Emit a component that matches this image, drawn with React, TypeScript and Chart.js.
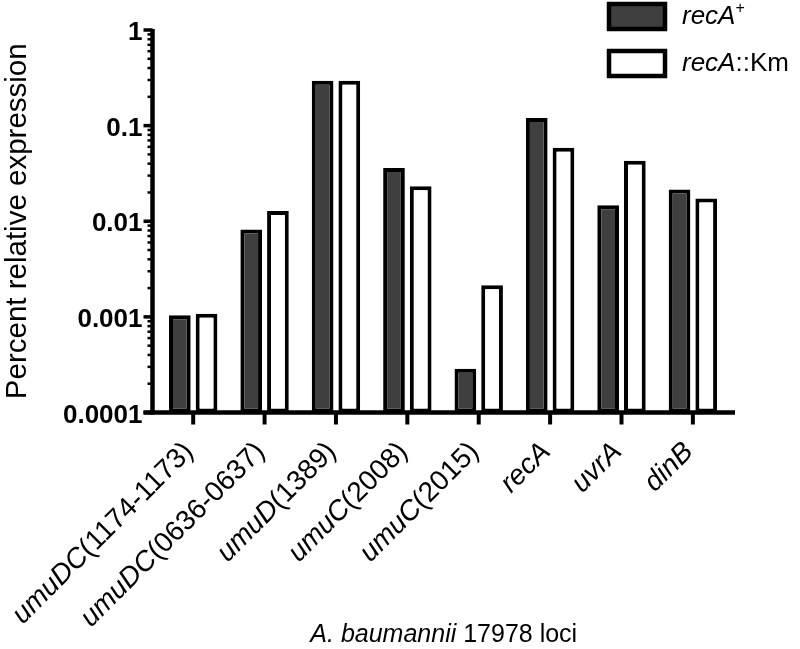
import { useEffect, useRef } from 'react';
import { Chart, registerables } from 'chart.js';

Chart.register(...registerables);

// ---- data ----
const categories = ['umuDC(1174-1173)', 'umuDC(0636-0637)', 'umuD(1389)', 'umuC(2008)', 'umuC(2015)', 'recA', 'uvrA', 'dinB'];
const seriesNames = ['recA+', 'recA::Km'];
const recAPlus = [0.00104, 0.0082, 0.294, 0.036, 0.000286, 0.12, 0.0147, 0.0215];
const recAKm = [0.00108, 0.0128, 0.294, 0.0232, 0.00214, 0.0587, 0.0429, 0.0173];
const yTickValues = [0.0001, 0.001, 0.01, 0.1, 1];
const yTickLabels = ['0.0001', '0.001', '0.01', '0.1', '1'];
const yMinorMultiples = [2, 3, 4, 5, 6, 7, 8, 9];
const yAxisTitle = 'Percent relative expression';
const xAxisTitleParts = ['A. baumannii', ' 17978 loci'];

const FF = '"Liberation Sans", Arial, Helvetica, sans-serif';
const DARK = '#3f3f3f';

type Part = { text: string; italic?: boolean; bold?: boolean; sup?: boolean };

function fontFor(p: Part, size: number) {
  const s = p.sup ? Math.round(size * 0.6) : size;
  return `${p.italic ? 'italic ' : ''}${p.bold ? 'bold ' : ''}${s}px ${FF}`;
}

function drawParts(ctx: CanvasRenderingContext2D, parts: Part[], x: number, y: number, size: number, align: 'left' | 'right' | 'center') {
  ctx.textAlign = 'left';
  const widths = parts.map((p) => {
    ctx.font = fontFor(p, size);
    return ctx.measureText(p.text).width;
  });
  const total = widths.reduce((a, b) => a + b, 0);
  let cx = align === 'left' ? x : align === 'right' ? x - total : x - total / 2;
  parts.forEach((p, i) => {
    ctx.font = fontFor(p, size);
    ctx.fillText(p.text, cx, p.sup ? y - size * 0.34 : y);
    cx += widths[i];
  });
}

function geneParts(label: string): Part[] {
  const m = label.match(/^([A-Za-z]+)(.*)$/);
  if (!m) return [{ text: label }];
  const parts: Part[] = [{ text: m[1], italic: true }];
  if (m[2] === '+') parts.push({ text: '+', sup: true });
  else if (m[2]) parts.push({ text: m[2] });
  return parts;
}

const customDraw = {
  id: 'customDraw',
  afterDraw(chart: any) {
    const ctx: CanvasRenderingContext2D = chart.ctx;
    const { left, right, top, bottom } = chart.chartArea;
    const xs = chart.scales.x;
    const ys = chart.scales.y;
    ctx.save();
    ctx.fillStyle = '#000';
    ctx.strokeStyle = '#000';
    ctx.lineCap = 'butt';

    // y axis line
    ctx.lineWidth = 4.5;
    ctx.beginPath();
    ctx.moveTo(left, top - 1);
    ctx.lineTo(left, bottom + 2);
    ctx.stroke();
    // x axis line
    ctx.beginPath();
    ctx.moveTo(left - 9, bottom);
    ctx.lineTo(right, bottom);
    ctx.stroke();

    // y major ticks + labels
    yTickValues.forEach((v, i) => {
      const py = ys.getPixelForValue(v);
      ctx.lineWidth = 3.5;
      ctx.beginPath();
      ctx.moveTo(left - 9, py);
      ctx.lineTo(left, py);
      ctx.stroke();
      ctx.textBaseline = 'middle';
      drawParts(ctx, [{ text: yTickLabels[i], bold: true }], left - 10, py + 3, 26, 'right');
    });
    // y minor ticks
    for (let i = 0; i < yTickValues.length - 1; i++) {
      yMinorMultiples.forEach((m) => {
        const py = ys.getPixelForValue(yTickValues[i] * m);
        ctx.lineWidth = 2.5;
        ctx.beginPath();
        ctx.moveTo(left - 5, py);
        ctx.lineTo(left, py);
        ctx.stroke();
      });
    }

    // x ticks + rotated labels
    categories.forEach((c, i) => {
      const px = xs.getPixelForValue(i);
      ctx.lineWidth = 4;
      ctx.beginPath();
      ctx.moveTo(px, bottom);
      ctx.lineTo(px, bottom + 12);
      ctx.stroke();
      ctx.save();
      ctx.translate(px - 4, bottom + 35);
      ctx.rotate(-Math.PI / 4);
      ctx.textBaseline = 'middle';
      drawParts(ctx, geneParts(c), 0, 0, 28, 'right');
      ctx.restore();
    });

    // y axis title
    ctx.save();
    ctx.translate(26, (top + bottom) / 2);
    ctx.rotate(-Math.PI / 2);
    ctx.textBaseline = 'alphabetic';
    drawParts(ctx, [{ text: yAxisTitle }], 0, 0, 29.5, 'center');
    ctx.restore();

    // x axis title
    ctx.textBaseline = 'alphabetic';
    drawParts(ctx, [{ text: xAxisTitleParts[0], italic: true }, { text: xAxisTitleParts[1] }], (left + right) / 2, 642, 25, 'center');

    // legend
    const fills = [DARK, '#ffffff'];
    seriesNames.forEach((n, i) => {
      const by = 4 + i * 47;
      ctx.fillStyle = fills[i];
      ctx.fillRect(609, by, 56, 25);
      ctx.lineWidth = 4.5;
      ctx.strokeStyle = '#000';
      ctx.strokeRect(609, by, 56, 25);
      ctx.fillStyle = '#000';
      ctx.textBaseline = 'middle';
      drawParts(ctx, geneParts(n), 682, by + 13, 26, 'left');
    });

    ctx.restore();
  },
};

export default function App() {
  const ref = useRef<HTMLCanvasElement>(null);
  useEffect(() => {
    if (!ref.current) return;
    const chart = new Chart(ref.current, {
      type: 'bar',
      data: {
        datasets: [
          {
            label: seriesNames[0],
            data: recAPlus.map((v, i) => ({ x: i, y: v })),
            backgroundColor: DARK,
            borderColor: '#000',
            borderWidth: 4,
            borderSkipped: false,
          },
          {
            label: seriesNames[1],
            data: recAKm.map((v, i) => ({ x: i, y: v })),
            backgroundColor: '#ffffff',
            borderColor: '#000',
            borderWidth: 4,
            borderSkipped: false,
          },
        ],
      },
      options: {
        responsive: false,
        animation: false,
        events: [],
        categoryPercentage: 0.748,
        barPercentage: 0.813,
        layout: { padding: { left: 152.5, right: 65, top: 30, bottom: 236.5 } },
        plugins: { legend: { display: false }, tooltip: { enabled: false }, title: { display: false } },
        scales: {
          x: { type: 'linear', min: -0.57, max: 7.59, display: false, offset: false },
          y: { type: 'logarithmic', min: 0.0001, max: 1, display: false },
        },
      } as any,
      plugins: [customDraw],
    });
    return () => chart.destroy();
  }, []);
  return (
    <div style={{ position: 'absolute', left: 0, top: 0, width: 800, height: 649, background: '#fff' }}>
      <canvas ref={ref} width={800} height={649} style={{ display: 'block', width: 800, height: 649 }} />
    </div>
  );
}
